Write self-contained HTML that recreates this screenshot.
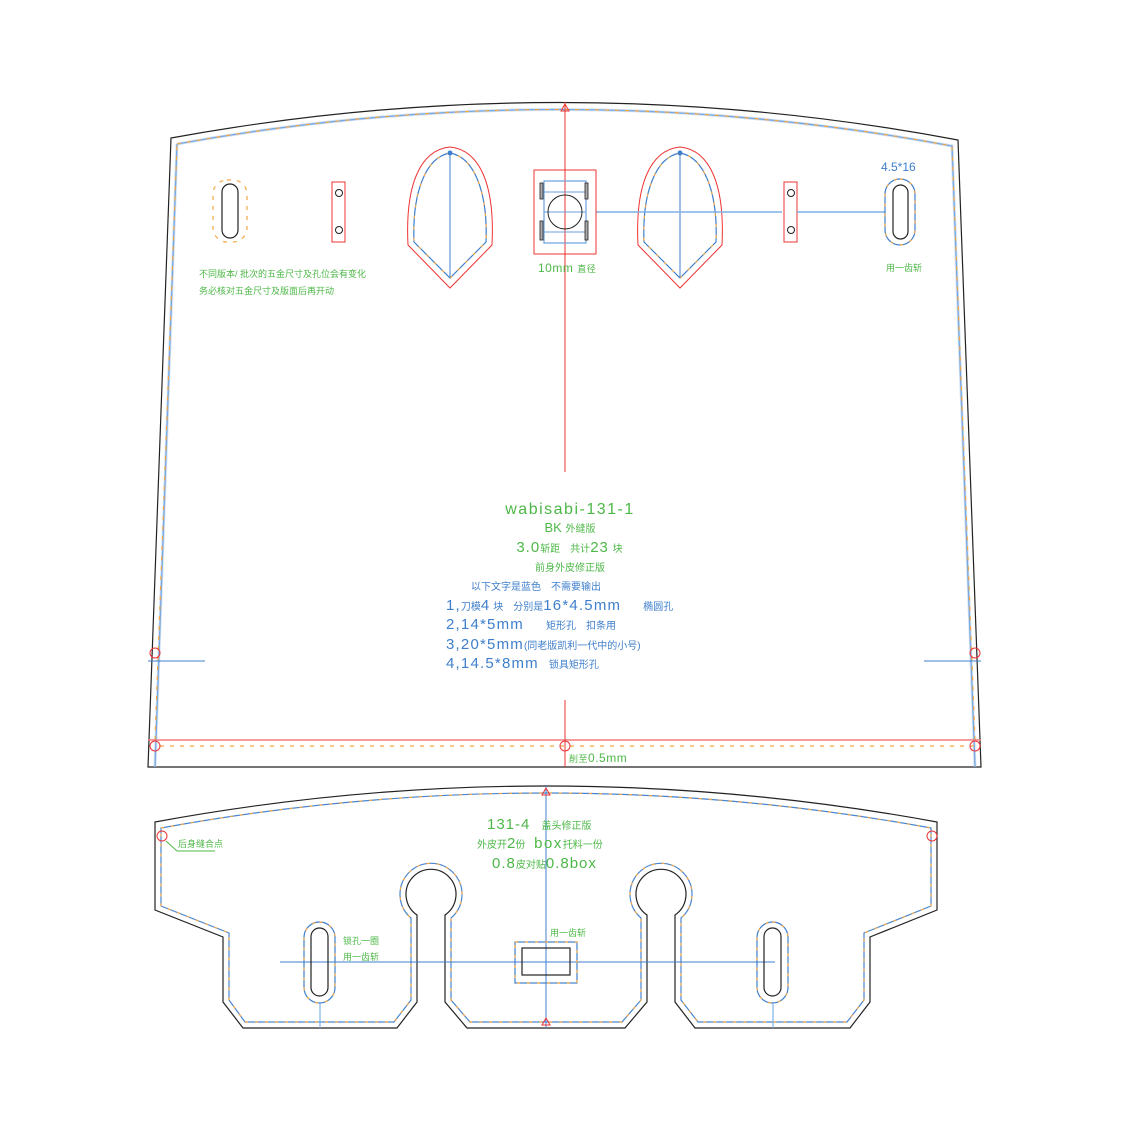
<!DOCTYPE html>
<html><head><meta charset="utf-8"><style>
html,body{margin:0;padding:0;background:#fff;}
svg{display:block}
.g{fill:#4db848;font-family:"Liberation Sans","Noto Sans CJK SC",sans-serif}
.b{fill:#3f7fcc;font-family:"Liberation Sans","Noto Sans CJK SC",sans-serif}
</style></head><body>
<svg width="1134" height="1133" viewBox="0 0 1134 1133" xmlns="http://www.w3.org/2000/svg">
<!-- TOP PIECE -->
<path d="M171,138 Q565,66 958,140 L981,767 L148,767 Z" fill="none" stroke="#222" stroke-width="1.2"/>
<path d="M177,144 Q565,74 952,146 L975,767 M155,767 L177,144" fill="none" stroke="#4a86d0" stroke-width="1.3"/>
<path d="M177,144 Q565,74 952,146 L975,767 M155,767 L177,144" fill="none" stroke="#a8c8ec" stroke-width="3" opacity="0.5"/>
<path d="M177,144 Q565,74 952,146 L975,740 M155,740 L177,144" fill="none" stroke="#f5a742" stroke-width="1.2" stroke-dasharray="4,6"/>
<line x1="148" y1="740" x2="981" y2="740" stroke="#f27c7c" stroke-width="1.5"/>
<line x1="160" y1="746" x2="975" y2="746" stroke="#f5a742" stroke-width="1.2" stroke-dasharray="4,6"/>
<g fill="none" stroke="#e33" stroke-width="1">
<circle cx="155" cy="746" r="5"/><circle cx="565" cy="746" r="5"/><circle cx="975" cy="746" r="5"/>
<circle cx="155" cy="653" r="5"/><circle cx="975" cy="653" r="5"/>
</g>
<line x1="148" y1="661" x2="205" y2="661" stroke="#3f7fcc" stroke-width="1"/>
<line x1="924" y1="661" x2="981" y2="661" stroke="#3f7fcc" stroke-width="1"/>
<line x1="565" y1="102" x2="565" y2="472" stroke="#e33" stroke-width="1"/>
<line x1="565" y1="700" x2="565" y2="767" stroke="#e33" stroke-width="1"/>
<path d="M565,104 L561,111 L569,111 Z" fill="none" stroke="#e33" stroke-width="1"/>
<rect x="222" y="184" width="16" height="54" rx="8" fill="none" stroke="#222" stroke-width="1.2"/>
<rect x="213" y="180" width="34" height="62" rx="14" fill="none" stroke="#f5a742" stroke-width="1.2" stroke-dasharray="4,6"/>
<rect x="332" y="182" width="13" height="60" fill="none" stroke="#e33"/>
<circle cx="339" cy="193" r="3.5" fill="none" stroke="#222"/><circle cx="339" cy="230" r="3.5" fill="none" stroke="#222"/>
<rect x="784" y="182" width="13" height="60" fill="none" stroke="#e33"/>
<circle cx="791" cy="193" r="3.5" fill="none" stroke="#222"/><circle cx="791" cy="230" r="3.5" fill="none" stroke="#222"/>
<g fill="none">
<path d="M450,147 C420,150 405,185 408,245 L450,288 L492,245 C495,185 480,150 450,147 Z" stroke="#e33" stroke-width="1"/>
<path d="M450,153 C426,157 412,192 414,242 L450,278 L486,242 C488,192 474,157 450,153 Z" stroke="#3f7fcc" stroke-width="1.2"/>
<path d="M450,153 C426,157 412,192 414,242 L450,278 L486,242 C488,192 474,157 450,153 Z" stroke="#f5a742" stroke-width="1.2" stroke-dasharray="3,8"/>
<line x1="450" y1="153" x2="450" y2="278" stroke="#3f7fcc"/>
<path d="M680,147 C650,150 635,185 638,245 L680,288 L722,245 C725,185 710,150 680,147 Z" stroke="#e33" stroke-width="1"/>
<path d="M680,153 C656,157 642,192 644,242 L680,278 L716,242 C718,192 704,157 680,153 Z" stroke="#3f7fcc" stroke-width="1.2"/>
<path d="M680,153 C656,157 642,192 644,242 L680,278 L716,242 C718,192 704,157 680,153 Z" stroke="#f5a742" stroke-width="1.2" stroke-dasharray="3,8"/>
<line x1="680" y1="153" x2="680" y2="278" stroke="#3f7fcc"/>
</g>
<circle cx="450" cy="153" r="2.5" fill="#3f7fcc"/><circle cx="680" cy="153" r="2.5" fill="#3f7fcc"/>
<line x1="596" y1="212" x2="782" y2="212" stroke="#7fb0e6" stroke-width="1.5"/>
<line x1="797" y1="212" x2="885" y2="212" stroke="#7fb0e6" stroke-width="1.5"/>
<rect x="534" y="170" width="62" height="84" fill="none" stroke="#e33"/>
<rect x="544" y="181" width="42" height="62" fill="none" stroke="#6a9fdc" stroke-width="1.2"/>
<line x1="544" y1="192" x2="586" y2="192" stroke="#6a9fdc"/><line x1="544" y1="232" x2="586" y2="232" stroke="#6a9fdc"/>
<line x1="544" y1="212" x2="586" y2="212" stroke="#6a9fdc"/>
<circle cx="565" cy="212" r="17" fill="none" stroke="#222"/>
<g fill="#aaa" stroke="#222" stroke-width="0.8">
<rect x="540" y="183" width="3" height="16"/><rect x="540" y="221" width="3" height="19"/>
<rect x="585" y="183" width="3" height="16"/><rect x="585" y="221" width="3" height="19"/>
</g>
<rect x="893" y="185" width="15" height="54" rx="7.5" fill="none" stroke="#222" stroke-width="1.2"/>
<rect x="885" y="179" width="30" height="66" rx="15" fill="none" stroke="#3f7fcc" stroke-width="1.2"/>
<rect x="885" y="179" width="30" height="66" rx="15" fill="none" stroke="#f5a742" stroke-width="1.2" stroke-dasharray="3,7"/>
<text x="881" y="171" class="b" font-size="12">4.5*16</text>
<text x="886" y="271" class="g" font-size="9">用一齿斩</text>
<text x="538" y="272" class="g" font-size="12" letter-spacing="0.5">10mm <tspan font-size="9">直径</tspan></text>
<text x="199" y="277" class="g" font-size="9">不同版本/ 批次的五金尺寸及孔位会有变化</text>
<text x="199" y="294" class="g" font-size="9">务必核对五金尺寸及版面后再开动</text>
<text x="570" y="514" class="g" font-size="16" text-anchor="middle" letter-spacing="1.5">wabisabi-131-1</text>
<text x="570" y="532" class="g" font-size="13" text-anchor="middle">BK <tspan font-size="10">外缝版</tspan></text>
<text x="570" y="552" class="g" font-size="15" text-anchor="middle" letter-spacing="1">3.0<tspan font-size="10" letter-spacing="0">斩距　共计</tspan>23<tspan font-size="10"> 块</tspan></text>
<text x="570" y="571" class="g" font-size="10" text-anchor="middle">前身外皮修正版</text>
<text x="471" y="590" class="b" font-size="10">以下文字是蓝色　不需要输出</text>
<text x="446" y="610" class="b" font-size="15" letter-spacing="1.2">1,<tspan font-size="10" letter-spacing="0">刀模</tspan>4<tspan font-size="10" letter-spacing="0"> 块　分别是</tspan>16*4.5mm<tspan font-size="10" dx="22" letter-spacing="0">椭圆孔</tspan></text>
<text x="446" y="629" class="b" font-size="15" letter-spacing="1.2">2,14*5mm<tspan font-size="10" dx="22" letter-spacing="0">矩形孔　扣条用</tspan></text>
<text x="446" y="649" class="b" font-size="15" letter-spacing="1.2">3,20*5mm<tspan font-size="10" letter-spacing="0">(同老版凯利一代中的小号)</tspan></text>
<text x="446" y="668" class="b" font-size="15" letter-spacing="1.2">4,14.5*8mm<tspan font-size="10" dx="10" letter-spacing="0">锁具矩形孔</tspan></text>
<text x="569" y="762" class="g" font-size="12" letter-spacing="0.5"><tspan font-size="9">削至</tspan>0.5mm</text>

<!-- BOTTOM PIECE -->
<path d="M155,822 Q546,750 937,822 L937,910 L870,937 L870,1002 L850,1028 L695,1028 L675,1002 L675,915 A25,25 0 1 0 647,915 L647,1002 L625,1028 L467,1028 L445,1002 L445,915 A25,25 0 1 0 417,915 L417,1002 L397,1028 L243,1028 L223,1002 L223,937 L155,910 Z" fill="none" stroke="#222" stroke-width="1.2"/>
<path d="M161,828 Q546,758 931,828 L931,906 L864,933 L864,1000 L847,1022 L698,1022 L681,1000 L681,918 A31,31 0 1 0 641,918 L641,1000 L622,1022 L470,1022 L451,1000 L451,918 A31,31 0 1 0 411,918 L411,1000 L394,1022 L245,1022 L229,1000 L229,933 L161,906 Z" fill="none" stroke="#4a86d0" stroke-width="1.2"/>
<path d="M161,828 Q546,758 931,828 L931,906 L864,933 L864,1000 L847,1022 L698,1022 L681,1000 L681,918 A31,31 0 1 0 641,918 L641,1000 L622,1022 L470,1022 L451,1000 L451,918 A31,31 0 1 0 411,918 L411,1000 L394,1022 L245,1022 L229,1000 L229,933 L161,906 Z" fill="none" stroke="#f5a742" stroke-width="1.2" stroke-dasharray="3,7"/>
<line x1="280" y1="962" x2="775" y2="962" stroke="#3f7fcc" stroke-width="1"/>
<line x1="546" y1="786" x2="546" y2="1028" stroke="#3f7fcc" stroke-width="1"/>
<path d="M546,788 L542,795 L550,795 Z" fill="none" stroke="#e33"/>
<path d="M546,1018 L542,1025 L550,1025 Z" fill="none" stroke="#e33"/>
<circle cx="162" cy="836" r="5" fill="none" stroke="#e33"/>
<circle cx="932" cy="836" r="5" fill="none" stroke="#e33"/>
<rect x="311" y="928" width="17" height="68" rx="8.5" fill="none" stroke="#222" stroke-width="1.2"/>
<rect x="304" y="922" width="31" height="81" rx="15.5" fill="none" stroke="#3f7fcc" stroke-width="1.2"/>
<rect x="304" y="922" width="31" height="81" rx="15.5" fill="none" stroke="#f5a742" stroke-width="1.2" stroke-dasharray="3,7"/>
<line x1="320" y1="1003" x2="320" y2="1028" stroke="#7fb0e6" stroke-width="1.2"/>
<rect x="764" y="928" width="17" height="68" rx="8.5" fill="none" stroke="#222" stroke-width="1.2"/>
<rect x="757" y="922" width="31" height="81" rx="15.5" fill="none" stroke="#3f7fcc" stroke-width="1.2"/>
<rect x="757" y="922" width="31" height="81" rx="15.5" fill="none" stroke="#f5a742" stroke-width="1.2" stroke-dasharray="3,7"/>
<line x1="773" y1="1003" x2="773" y2="1028" stroke="#7fb0e6" stroke-width="1.2"/>
<rect x="515" y="942" width="62" height="41" fill="none" stroke="#3f7fcc" stroke-width="1.2"/>
<rect x="515" y="942" width="62" height="41" fill="none" stroke="#f5a742" stroke-width="1.2" stroke-dasharray="3,7"/>
<rect x="522" y="948" width="48" height="27" fill="none" stroke="#222" stroke-width="1.2"/>
<line x1="166" y1="841" x2="177" y2="851" stroke="#4db848"/>
<line x1="177" y1="851" x2="215" y2="851" stroke="#4db848"/>
<text x="178" y="847" class="g" font-size="9">后身缝合点</text>
<text x="343" y="944" class="g" font-size="9">锁孔一圈</text>
<text x="343" y="960" class="g" font-size="9">用一齿斩</text>
<text x="550" y="936" class="g" font-size="9">用一齿斩</text>
<text x="487" y="829" class="g" font-size="15" letter-spacing="1">131-4 <tspan font-size="10" dx="6" letter-spacing="0">盖头修正版</tspan></text>
<text x="477" y="848" class="g" font-size="10">外皮开<tspan font-size="15">2</tspan>份 <tspan font-size="15" dx="6" letter-spacing="1.5">box</tspan>托料一份</text>
<text x="492" y="868" class="g" font-size="15" letter-spacing="1">0.8<tspan font-size="10" letter-spacing="0">皮对贴</tspan>0.8box</text>
</svg>
</body></html>
